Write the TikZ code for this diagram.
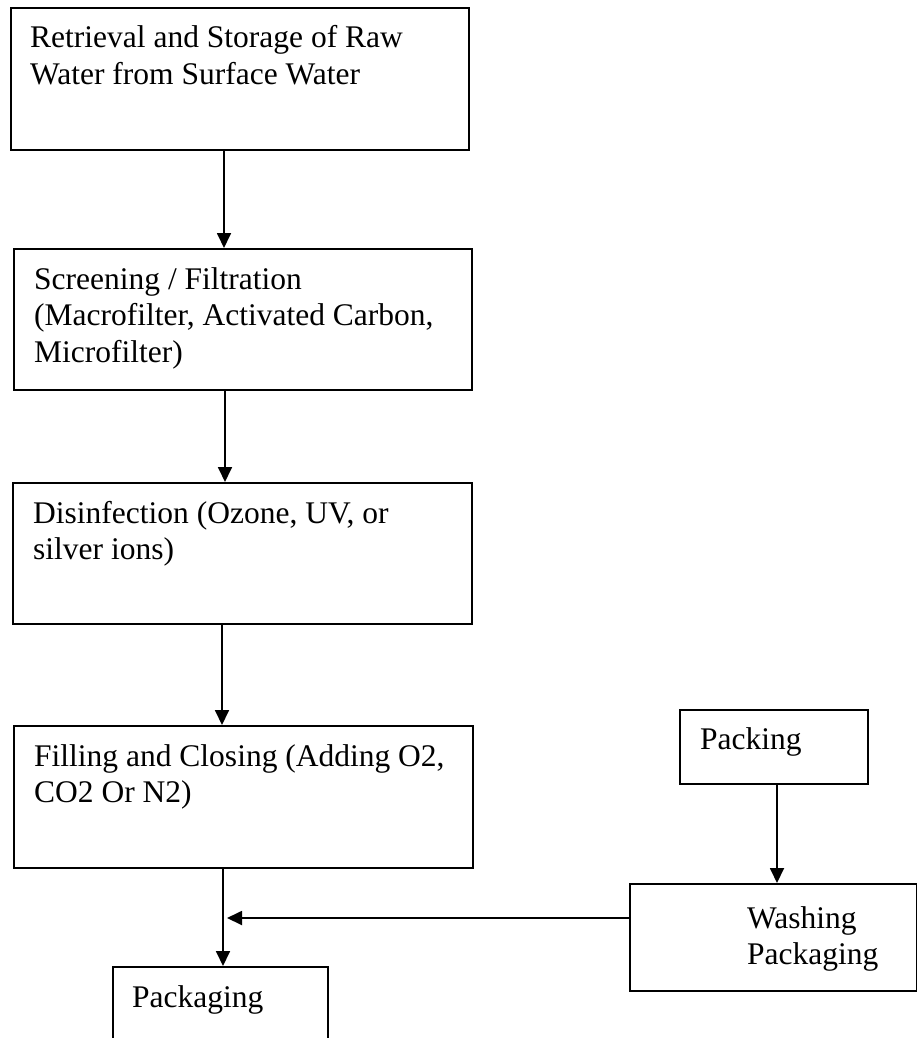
\documentclass[tikz,border=0pt]{standalone}
\usepackage{fontspec}
\setmainfont{Liberation Serif}
\usetikzlibrary{arrows.meta}
\begin{document}
\begin{tikzpicture}[x=1pt,y=-1pt,
  stepbox/.style={draw, line width=1.8pt, rectangle, inner sep=0pt, anchor=north west},
  boxtext/.style={anchor=base west, align=flush left, inner sep=0pt, text width=440pt,
    font=\fontsize{31.5}{36.5}\selectfont},
  flow/.style={line width=1.8pt, -{Triangle[length=15pt,width=14pt]}}
]
% page
\fill[white] (0,0) rectangle (917,1038);
\clip (0,0) rectangle (917,1038);

% process steps
\node[stepbox, minimum width=458pt, minimum height=142pt] (b1) at (10,7) {};
\node[stepbox, minimum width=458pt, minimum height=141pt] (b2) at (13,248) {};
\node[stepbox, minimum width=459pt, minimum height=141pt] (b3) at (12,482) {};
\node[stepbox, minimum width=459pt, minimum height=142pt] (b4) at (13,725) {};
\node[stepbox, minimum width=215pt, minimum height=110pt] (pkg) at (112,966) {};
\node[stepbox, minimum width=188pt, minimum height=74pt] (pack) at (679,709) {};
\node[stepbox, minimum width=287pt, minimum height=107pt] (wash) at (629,883) {};

% step texts, placed by the baseline of their first line
\node[boxtext] (t1) at ([xshift=20pt,yshift=-41pt]b1.north west)
  {Retrieval and Storage of Raw\\Water from Surface Water};
\node[boxtext] (t2) at ([xshift=21pt,yshift=-41pt]b2.north west)
  {Screening / Filtration\\(Macrofilter, Activated Carbon,\\Microfilter)};
\node[boxtext] (t3) at ([xshift=21pt,yshift=-41pt]b3.north west)
  {Disinfection (Ozone, UV, or\\silver ions)};
\node[boxtext] (t4) at ([xshift=21pt,yshift=-41pt]b4.north west)
  {Filling and Closing (Adding O2,\\CO2 Or N2)};
\node[boxtext] (t5) at ([xshift=20pt,yshift=-41pt]pkg.north west) {Packaging};
\node[boxtext] (t6) at ([xshift=21pt,yshift=-40pt]pack.north west) {Packing};
\node[boxtext, text width=160pt] (t7) at ([xshift=118pt,yshift=-45pt]wash.north west)
  {Washing\\Packaging};

% connector positions
\coordinate (c1) at (224,0);
\coordinate (c2) at (225,0);
\coordinate (c3) at (222,0);
\coordinate (c4) at (223,0);
\coordinate (c5) at (777,0);
\coordinate (join) at (227,918);

% connectors
\draw[flow] (b1.south -| c1) -- (b2.north -| c1);
\draw[flow] (b2.south -| c2) -- (b3.north -| c2);
\draw[flow] (b3.south -| c3) -- (b4.north -| c3);
\draw[flow] (b4.south -| c4) -- (pkg.north -| c4);
\draw[flow] (pack.south -| c5) -- (wash.north -| c5);
\draw[flow] (wash.west |- join) -- (join);
\end{tikzpicture}
\end{document}
